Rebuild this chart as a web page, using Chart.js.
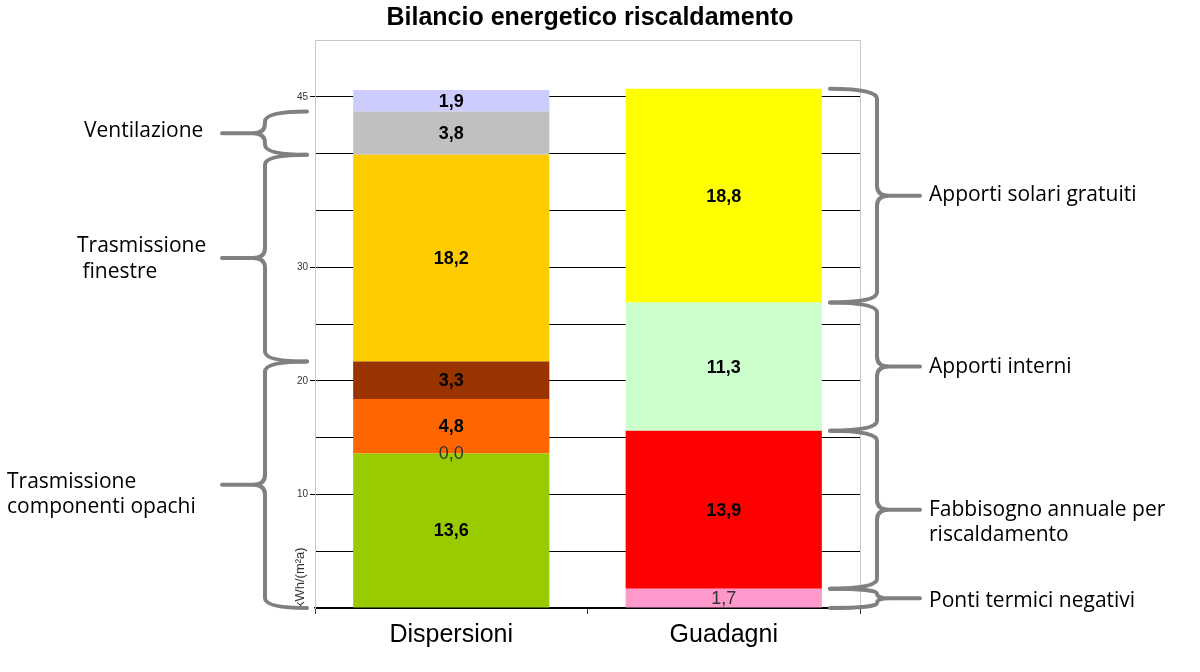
<!DOCTYPE html>
<html>
<head>
<meta charset="utf-8">
<script src="https://cdn.jsdelivr.net/npm/chart.js@4"></script>
<style>
  html, body { margin: 0; padding: 0; background: #fff; }
  #wrap { width: 1200px; height: 672px; }
</style>
</head>
<body>
<div id="wrap"><canvas id="bilancioChart" width="1200" height="672"></canvas></div>
<script>
const categories = ["Dispersioni", "Guadagni"];

// Dispersioni segments, bottom to top
const dispersioniValues = [13.6, 0.0, 4.8, 3.3, 18.2, 3.8, 1.9];
const dispersioniColors = ["#99CC00", "#99CC00", "#FF6600", "#993300", "#FFCC00", "#C0C0C0", "#CCCCFF"];

// Guadagni segments, bottom to top
const guadagniValues = [1.7, 13.9, 11.3, 18.8];
const guadagniColors = ["#FF99CC", "#FF0000", "#CCFFCC", "#FFFF00"];

const yTickLabels = [10, 20, 30, 45];

// brace groups: which segments each label covers
const leftGroups = [
    { text: ["Ventilazione"], from: 5, to: 5 },
    { text: ["Trasmissione", " finestre"], from: 4, to: 4 },
    { text: ["Trasmissione", "componenti opachi"], from: 0, to: 3 }
];
const rightGroups = [
    { text: ["Apporti solari gratuiti"], from: 3, to: 3 },
    { text: ["Apporti interni"], from: 2, to: 2 },
    { text: ["Fabbisogno annuale per", "riscaldamento"], from: 1, to: 1 },
    { text: ["Ponti termici negativi"], from: 0, to: 0 }
];

const plainLabels = { d1: true, g0: true };

const datasets = [];
dispersioniValues.forEach((v, i) => {
    datasets.push({ label: "d" + i, data: [v, null], backgroundColor: dispersioniColors[i], stack: "s" });
});
guadagniValues.forEach((v, i) => {
    datasets.push({ label: "g" + i, data: [null, v], backgroundColor: guadagniColors[i], stack: "s" });
});

function fmt(v) {
    return v.toFixed(1).replace(".", ",");
}

const labelPlugin = {
    id: "segLabels",
    afterDatasetsDraw(chart) {
        const ctx = chart.ctx;
        ctx.save();
        ctx.textAlign = "center";
        ctx.textBaseline = "middle";
        chart.data.datasets.forEach((ds, di) => {
            const meta = chart.getDatasetMeta(di);
            meta.data.forEach((el, i) => {
                const v = ds.data[i];
                if (v === null) return;
                const plain = plainLabels[ds.label];
                ctx.font = (plain ? "" : "bold ") + "18px 'Liberation Sans', Arial";
                ctx.fillStyle = plain ? "#333" : "#000";
                ctx.fillText(fmt(v), el.x, (el.y + el.base) / 2 + 1);
            });
        });
        ctx.restore();
    }
};

function sumTo(arr, n) {
    let s = 0;
    for (let i = 0; i < n; i++) s += arr[i];
    return s;
}

function brace(ctx, xEnd, xv, xTip, y1, y2, yTip) {
    const r = Math.min(10, (y2 - y1) / 4);
    const dir = xTip < xv ? -1 : 1;
    ctx.beginPath();
    ctx.moveTo(xEnd, y1);
    ctx.quadraticCurveTo(xv, y1, xv, y1 + r);
    ctx.lineTo(xv, yTip - r);
    ctx.quadraticCurveTo(xv, yTip, xv + dir * 12, yTip);
    ctx.lineTo(xTip, yTip);
    ctx.moveTo(xv + dir * 12, yTip);
    ctx.quadraticCurveTo(xv, yTip, xv, yTip + r);
    ctx.lineTo(xv, y2 - r);
    ctx.quadraticCurveTo(xv, y2, xEnd, y2);
    ctx.stroke();
}

const leftTextPos = [
    { x: 84, dy: [-2] },
    { x: 77, dy: [-12, 14] },
    { x: 7, dy: [-3, 22] }
];
const rightTextPos = [
    { dy: [-1] }, { dy: [0] }, { dy: [0, 25] }, { dy: [3] }
];

const framePlugin = {
    id: "frame",
    afterDraw(chart) {
        const ctx = chart.ctx;
        const a = chart.chartArea;
        const y = chart.scales.y;
        ctx.save();
        // right border
        ctx.strokeStyle = "#c8c8c8";
        ctx.lineWidth = 1;
        ctx.beginPath();
        ctx.moveTo(a.right + 0.5, a.top);
        ctx.lineTo(a.right + 0.5, a.bottom);
        ctx.stroke();

        // title
        ctx.fillStyle = "#000";
        ctx.font = "bold 25px 'Liberation Sans', Arial";
        ctx.textAlign = "center";
        ctx.textBaseline = "middle";
        ctx.fillText("Bilancio energetico riscaldamento", 590, 18);

        ctx.strokeStyle = "#808080";
        ctx.lineWidth = 4;
        ctx.lineCap = "round";
        ctx.lineJoin = "round";
        ctx.font = "21px 'Open Sans', sans-serif";
        ctx.textAlign = "left";

        leftGroups.forEach((g, k) => {
            const y1 = y.getPixelForValue(sumTo(dispersioniValues, g.to + 1));
            const y2 = y.getPixelForValue(sumTo(dispersioniValues, g.from));
            const ym = (y1 + y2) / 2;
            brace(ctx, a.left - 8, a.left - 50, a.left - 93, y1, y2, ym);
            const p = leftTextPos[k];
            ctx.fillStyle = "#000";
            g.text.forEach((t, j) => ctx.fillText(t, p.x, ym + p.dy[j]));
        });

        rightGroups.forEach((g, k) => {
            const y1 = y.getPixelForValue(sumTo(guadagniValues, g.to + 1));
            const y2 = y.getPixelForValue(sumTo(guadagniValues, g.from));
            const ym = (y1 + y2) / 2;
            brace(ctx, a.right - 30, a.right + 17, a.right + 60, y1, y2, ym);
            const p = rightTextPos[k];
            ctx.fillStyle = "#000";
            g.text.forEach((t, j) => ctx.fillText(t, a.right + 69, ym + p.dy[j]));
        });
        ctx.restore();
    }
};

new Chart(document.getElementById("bilancioChart"), {
    type: "bar",
    data: { labels: categories, datasets: datasets },
    options: {
        responsive: false,
        animation: false,
        layout: { padding: { left: 285, right: 340, top: 40, bottom: 0 } },
        datasets: { bar: { categoryPercentage: 1, barPercentage: 0.72 } },
        plugins: {
            legend: { display: false },
            tooltip: { enabled: false }
        },
        scales: {
            x: {
                stacked: true,
                afterFit: s => { s.height = 64; },
                border: { color: "#000", width: 1.5 },
                grid: { offset: true, drawOnChartArea: false, tickLength: 6, color: "#333" },
                ticks: { color: "#000", padding: 6, font: { family: "'Liberation Sans', Arial", size: 25 } }
            },
            y: {
                stacked: true,
                min: 0,
                max: 50,
                afterFit: s => { s.width = 30; },
                border: { color: "#c8c8c8" },
                grid: {
                    color: c => (c.tick && c.tick.value === 50) ? "#c8c8c8" : "#000",
                    tickColor: c => (c.tick && yTickLabels.includes(c.tick.value)) ? "#000" : "rgba(0,0,0,0)",
                    tickLength: 5
                },
                ticks: {
                    stepSize: 5,
                    padding: 2,
                    color: "#333",
                    font: { family: "'Liberation Sans', Arial", size: 10 },
                    callback: v => yTickLabels.includes(v) ? String(v) : ""
                },
                title: {
                    display: true,
                    text: "kWh/(m²a)",
                    align: "start",
                    color: "#333",
                    padding: { top: 8, bottom: 0 },
                    font: { family: "'Liberation Sans', Arial", size: 13 }
                }
            }
        }
    },
    plugins: [labelPlugin, framePlugin]
});
</script>
</body>
</html>
